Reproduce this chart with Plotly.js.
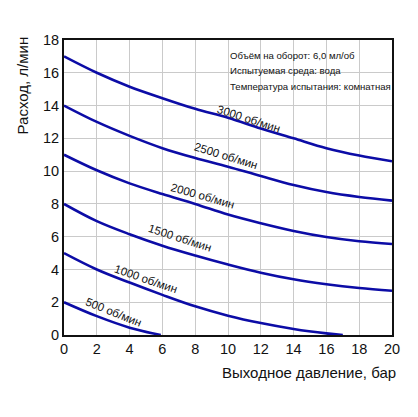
<!DOCTYPE html>
<html>
<head>
<meta charset="utf-8">
<script src="https://cdn.plot.ly/plotly-3.0.1.min.js"></script>
<style>html,body{margin:0;padding:0;background:#fff;}#chart{width:418px;height:417px;}</style>
</head>
<body>
<div id="chart"></div>
<script>
// Pressure (bar)
const pressure = [0, 2, 4, 6, 8, 10, 12, 14, 16, 18, 20];
// Flow (l/min) per speed
const flow3000 = [17, 16.0, 15.15, 14.45, 13.8, 13.25, 12.6, 12.0, 11.4, 10.95, 10.6];
const flow2500 = [14, 13.0, 12.15, 11.4, 10.8, 10.27, 9.7, 9.15, 8.72, 8.42, 8.2];
const flow2000 = [11, 10.05, 9.25, 8.6, 8.0, 7.35, 6.82, 6.35, 5.98, 5.72, 5.55];
const flow1500 = [8, 6.95, 6.15, 5.45, 4.85, 4.3, 3.8, 3.4, 3.1, 2.87, 2.7];
const pressure1000 = [0, 2, 4, 6, 8, 10, 12, 14, 16, 17];
const flow1000 = [5, 4.0, 3.2, 2.45, 1.75, 1.18, 0.73, 0.37, 0.1, 0];
const pressure500 = [0, 2, 4, 5.9];
const flow500 = [2, 1.15, 0.45, 0];

const speedLabels = ["3000 об/мин", "2500 об/мин", "2000 об/мин", "1500 об/мин", "1000 об/мин", "500 об/мин"];
const xTicks = [0, 2, 4, 6, 8, 10, 12, 14, 16, 18, 20];
const yTicks = [0, 2, 4, 6, 8, 10, 12, 14, 16, 18];
const infoLines = ["Объём на оборот: 6,0 мл/об", "Испытуемая среда: вода", "Температура испытания: комнатная"];
const xTitle = "Выходное давление, бар";
const yTitle = "Расход, л/мин";

const lineColor = "#0c0ca6";
function tr(x, y) {
  return {x: x, y: y, type: "scatter", mode: "lines", hoverinfo: "skip",
    line: {color: lineColor, width: 2.6, shape: "spline", smoothing: 1}};
}
const data = [
  tr(pressure, flow3000), tr(pressure, flow2500), tr(pressure, flow2000),
  tr(pressure, flow1500), tr(pressure1000, flow1000), tr(pressure500, flow500)
];

// label positions (data coords) and angles
const labelPos = [[11.3, 13.2, 18], [9.9, 10.9, 17], [8.5, 8.5, 16], [7.1, 5.9, 18], [5.0, 3.4, 19], [3.0, 1.4, 22]];
const annotations = [];
speedLabels.forEach((t, i) => {
  annotations.push({x: labelPos[i][0], y: labelPos[i][1], xref: "x", yref: "y", text: t,
    showarrow: false, textangle: labelPos[i][2], font: {family: "Liberation Sans, Arial", size: 11.5, color: "#111"}});
});
infoLines.forEach((t, i) => {
  annotations.push({x: 228, y: 55 + i * 15.5, xref: "paper", yref: "paper", text: t, showarrow: false,
    xanchor: "left", yanchor: "middle", font: {family: "Liberation Sans, Arial", size: 9.6, color: "#111"}});
});
// convert info line positions from pixels to paper
const L = 64, R = 26, T = 39.5, B = 82, W = 418, H = 417;
const pw = W - L - R, ph = H - T - B;
annotations.forEach(a => {
  if (a.xref === "paper") {
    a.x = (a.x - L) / pw;
    a.y = 1 - (a.y - T) / ph;
  }
});
annotations.push({x: (398 - L) / pw, y: 1 - (373 - T) / ph, xref: "paper", yref: "paper", text: xTitle,
  showarrow: false, xanchor: "right", yanchor: "middle", font: {family: "Liberation Sans, Arial", size: 15, color: "#111"}});
annotations.push({x: (22 - L) / pw, y: 1 - (85 - T) / ph, xref: "paper", yref: "paper", text: yTitle,
  showarrow: false, textangle: -90, xanchor: "center", yanchor: "middle", font: {family: "Liberation Sans, Arial", size: 15, color: "#111"}});

const layout = {
  width: W, height: H,
  margin: {l: L, r: R, t: T, b: B, pad: 0},
  paper_bgcolor: "#fff", plot_bgcolor: "#fff",
  showlegend: false,
  font: {family: "Liberation Sans, Arial", color: "#111"},
  xaxis: {range: [0, 20], tickvals: xTicks, ticktext: xTicks.map(String), showgrid: true, gridcolor: "#cacaca", gridwidth: 1,
    zeroline: false, showline: true, linecolor: "#111", linewidth: 2, mirror: true, ticks: "", ticklen: 0,
    tickfont: {size: 14.5, color: "#111"}, fixedrange: true},
  yaxis: {range: [0, 18], tickvals: yTicks, ticktext: yTicks.map(String), showgrid: true, gridcolor: "#cacaca", gridwidth: 1,
    zeroline: false, showline: true, linecolor: "#111", linewidth: 2, mirror: true, ticks: "", ticklen: 0,
    tickfont: {size: 14.5, color: "#111"}, fixedrange: true},
  annotations: annotations
};
Plotly.newPlot("chart", data, layout, {staticPlot: true, displayModeBar: false});
</script>
</body>
</html>
